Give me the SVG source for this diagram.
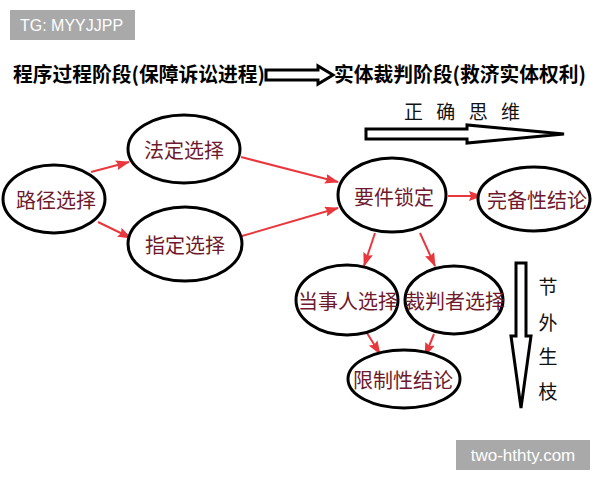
<svg xmlns="http://www.w3.org/2000/svg" width="600" height="480" viewBox="0 0 600 480">
<defs>
<style>
.n ellipse{fill:#fff;stroke:#000;stroke-width:3}
.n text{font-family:"Noto Sans CJK SC",sans-serif;font-size:20px;fill:#6e1a2c;text-anchor:middle;dominant-baseline:central}
.c line{stroke:#e8383d;stroke-width:2;marker-end:url(#ah)}
.t{font-family:"Noto Sans CJK SC",sans-serif;font-weight:bold;font-size:20px;fill:#000}
.r{font-family:"Noto Sans CJK SC",sans-serif;font-size:19px;fill:#111;text-anchor:middle;dominant-baseline:central}
.h{fill:#fff;stroke:#000;stroke-width:3;stroke-linejoin:miter}
.wm{font-family:"Liberation Sans",Arial,sans-serif;fill:#fff}
</style>
<marker id="ah" viewBox="0 0 14 10" refX="13" refY="5" markerWidth="14" markerHeight="10" markerUnits="userSpaceOnUse" orient="auto">
<path d="M0,0 L14,5 L0,10 L2,5 Z" fill="#e8383d"/>
</marker>
</defs>
<rect width="600" height="480" fill="#fff"/>

<rect x="10" y="10" width="125" height="30" fill="#a9a9a9"/>
<text class="wm" x="20" y="31" font-size="16">TG: MYYJJPP</text>

<text class="t" x="13" y="82" textLength="252" lengthAdjust="spacingAndGlyphs">程序过程阶段(保障诉讼进程)</text>
<path class="h" d="M266,70 L318,70 L318,66 L333,75 L318,84 L318,80 L266,80 Z"/>
<text class="t" x="334" y="82" textLength="252" lengthAdjust="spacingAndGlyphs">实体裁判阶段(救济实体权利)</text>

<text class="r" x="462" y="110" textLength="116" lengthAdjust="spacing" text-anchor="middle">正 确 思 维</text>
<path class="h" d="M366,129 L467,129 L467,125 L564,134 L467,143 L467,139 L366,139 Z"/>

<path class="h" d="M516,263 L526,263 L526,336 L531,336 L521,408 L511,336 L516,336 Z"/>
<text class="r" x="548" y="285">节</text>
<text class="r" x="548" y="321">外</text>
<text class="r" x="548" y="355">生</text>
<text class="r" x="548" y="390">枝</text>

<g class="c">
<line x1="91" y1="172" x2="129" y2="162"/>
<line x1="98" y1="222" x2="131" y2="238"/>
<line x1="241" y1="157" x2="338" y2="182"/>
<line x1="242" y1="236" x2="338" y2="208"/>
<line x1="448" y1="196" x2="482" y2="196"/>
<line x1="375" y1="233" x2="364" y2="266"/>
<line x1="420" y1="233" x2="435" y2="266"/>
<line x1="367" y1="333" x2="380" y2="354"/>
<line x1="434" y1="334" x2="425" y2="356"/>
</g>

<g id="n1" class="n"><ellipse cx="54" cy="199" rx="51" ry="34"/><text x="56" y="199">路径选择</text></g>
<g id="n2" class="n"><ellipse cx="184" cy="149" rx="56" ry="34"/><text x="184" y="149">法定选择</text></g>
<g id="n3" class="n"><ellipse cx="185" cy="244" rx="57" ry="37"/><text x="185" y="244">指定选择</text></g>
<g id="n4" class="n"><ellipse cx="392" cy="195" rx="54" ry="37"/><text x="394" y="196">要件锁定</text></g>
<g id="n5" class="n"><ellipse cx="534" cy="199" rx="56" ry="32"/><text x="537" y="199">完备性结论</text></g>
<g id="n6" class="n"><ellipse cx="347" cy="300" rx="51" ry="35"/><text x="348" y="300">当事人选择</text></g>
<g id="n7" class="n"><ellipse cx="454" cy="300" rx="49" ry="34"/><text x="455" y="300">裁判者选择</text></g>
<g id="n8" class="n"><ellipse cx="404" cy="379" rx="56" ry="29"/><text x="403" y="379">限制性结论</text></g>

<rect x="456" y="440" width="134" height="30" fill="#a9a9a9"/>
<text class="wm" x="523" y="461" font-size="17" text-anchor="middle">two-hthty.com</text>
</svg>
